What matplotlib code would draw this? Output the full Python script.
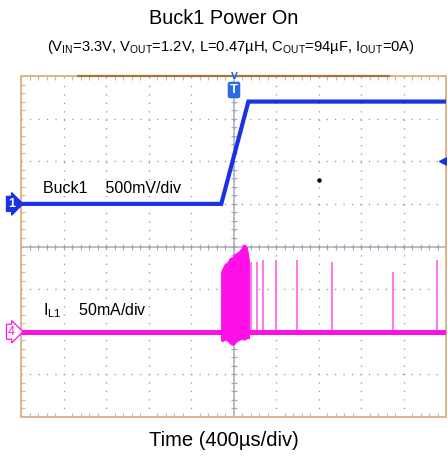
import numpy as np
import matplotlib
matplotlib.use("Agg")
import matplotlib.pyplot as plt
from matplotlib.transforms import blended_transform_factory

plt.rcParams['font.family'] = ['Liberation Sans', 'DejaVu Sans']
plt.rcParams['mathtext.fontset'] = 'custom'
plt.rcParams['mathtext.rm'] = 'Liberation Sans'

# ---- scope settings ----
time_per_div_us = 400          # horizontal scale
ch1_v_per_div = 0.5            # Buck1 output, V/div
ch1_ground_div = 5             # ch1 ground marker, divisions from bottom
ch4_ma_per_div = 50            # inductor current, mA/div
ch4_ground_div = 2             # ch4 ground marker, divisions from bottom
trigger_level_v = 0.5

# ---- Buck1 output voltage (V) ----
vout_t_us = [-2000, -115, 140, 2000]
vout_v = [0.0, 0.0, 1.2, 1.2]

# ---- inductor current burst during soft start (mA envelope) ----
burst_t_us = [-122, -110, -85, -60, -38, -15, 9, 30, 56, 80, 94, 115, 131, 150]
burst_top_ma = [70, 74, 80, 82, 87, 88, 92, 93, 96, 100, 103, 102, 99, 84]
burst_bot_ma = [-10, -12, -10, -11, -14, -16, -15, -12, -10, -9, -10, -9, -8, -8]

# ---- isolated current pulses after the ramp (mA) ----
pulse_t_us = [169, 225, 282, 404, 601, 930, 1502, 1915]
pulse_ma = [82, 82, 84, 84, 84, 82, 70, 84]

# ---- idle inductor current (mA) ----
il_t_us = [-2000, 2000]
il_ma = [0.0, 0.0]

BLUE = '#1a32e6'
PINK = '#ff10e6'
PINK_LIGHT = '#ff6cf0'
BORDER = '#dcb48c'
BORDER_DARK = '#a8743c'
CENTER = '#a4acbc'
GRIDC = '#9a9a9a'

W, H = 448, 458
fig = plt.figure(figsize=(W / 100, H / 100), dpi=100)
fig.patch.set_facecolor('white')

L, R, T, B = 21, 446, 76, 417
ax = fig.add_axes([L / W, 1 - B / H, (R - L) / W, (B - T) / H])
ndiv_x, ndiv_y = 10, 8
ax.set_xlim(-ndiv_x / 2 * time_per_div_us, ndiv_x / 2 * time_per_div_us)
ax.set_ylim(-ch1_ground_div * ch1_v_per_div, (ndiv_y - ch1_ground_div) * ch1_v_per_div)

# grid
ax.set_xticks(np.arange(-2000, 2001, time_per_div_us))
ax.set_yticks(np.arange(-2.5, 1.51, ch1_v_per_div))
ax.set_xticks(np.arange(-2000, 2001, time_per_div_us / 5), minor=True)
ax.set_yticks(np.arange(-2.5, 1.51, ch1_v_per_div / 5), minor=True)
ax.grid(True, which='major', color=GRIDC, linestyle=(0, (0.9, 5.2)), linewidth=1.0)
ax.tick_params(which='both', direction='in', top=True, right=True,
               labelbottom=False, labelleft=False, color=BORDER)
ax.tick_params(which='major', length=0)
ax.tick_params(which='minor', length=3, width=0.8)
for s in ax.spines.values():
    s.set_color(BORDER)
    s.set_linewidth(1.4)

# centre crosshair with fine ticks
xc = 0.0
yc = -ch1_ground_div * ch1_v_per_div + ndiv_y / 2 * ch1_v_per_div
ax.axvline(xc, color=CENTER, lw=1.1, zorder=1)
ax.axhline(yc, color=CENTER, lw=1.1, zorder=1)
ax.plot(np.arange(-2000, 2001, time_per_div_us / 5), np.full(51, yc), ls='none',
        marker='|', ms=4, mew=0.8, color=CENTER, zorder=1)
ax.plot(np.full(41, xc), np.arange(-2.5, 1.51, ch1_v_per_div / 5), ls='none',
        marker='_', ms=4, mew=0.8, color=CENTER, zorder=1)

# memory bar along the top edge
ax.plot([-1464, 1464], [1.5, 1.5], color=BORDER_DARK, lw=1.6, clip_on=False, zorder=5)

# channel 4: inductor current on its own scale
ax2 = ax.twinx()
ax2.set_ylim(-ch4_ground_div * ch4_ma_per_div, (ndiv_y - ch4_ground_div) * ch4_ma_per_div)
ax2.set_yticks([])
for s in ax2.spines.values():
    s.set_visible(False)
ax2.vlines(pulse_t_us, 0, pulse_ma, color=PINK_LIGHT, lw=1.3, zorder=3)
ax2.fill_between(burst_t_us, burst_bot_ma, burst_top_ma, color=PINK, lw=0, zorder=3)
ax2.plot(il_t_us, il_ma, color=PINK, lw=3.6, solid_capstyle='butt', zorder=3)

# channel 1: output voltage
ax3 = ax.twinx()
ax3.set_ylim(ax.get_ylim())
ax3.set_yticks([])
for s in ax3.spines.values():
    s.set_visible(False)
ax3.plot(vout_t_us, vout_v, color=BLUE, lw=3.0, solid_joinstyle='miter', zorder=4)
ax3.plot([800], [0.28], 'o', color='black', ms=2.2, zorder=4)
ax3.plot([1968], [trigger_level_v], marker='<', color=BLUE, ms=5.5, zorder=5)

# ground / trigger markers
bt = blended_transform_factory(fig.transFigure, ax3.transData)
fig.text(8 / W, 0.0, '1', transform=bt, color='white', fontsize=9, fontweight='bold',
         ha='left', va='center',
         bbox=dict(boxstyle='rarrow,pad=0.12', fc=BLUE, ec=BLUE))
bt2 = blended_transform_factory(fig.transFigure, ax2.transData)
fig.text(8 / W, 0.0, '4', transform=bt2, color=PINK, fontsize=9,
         ha='left', va='center',
         bbox=dict(boxstyle='rarrow,pad=0.12', fc='white', ec=PINK, lw=0.9))
fig.text(234 / W, 1 - 90 / H, 'T', color='white', fontsize=9.5, fontweight='bold',
         ha='center', va='center',
         bbox=dict(boxstyle='round,pad=0.12', fc='#2a6ae8', ec='#2a6ae8'))
fig.text(234 / W, 1 - 76 / H, 'v', color='#2a6ae8', fontsize=9, fontweight='bold',
         ha='center', va='center')

# channel captions
fig.text(43 / W, 1 - 188 / H, 'Buck1    500mV/div', fontsize=11.5, ha='left', va='center')
fig.text(43 / W, 1 - 311 / H, r'$\mathregular{I_{L1}}$    50mA/div', fontsize=11.5,
         ha='left', va='center')

# titles
fig.text(0.5, 1 - 19 / H, 'Buck1 Power On', fontsize=14.3, ha='center', va='center')
fig.text(231 / W, 1 - 47 / H,
         r'($\mathregular{V_{IN}}$=3.3V, $\mathregular{V_{OUT}}$=1.2V, L=0.47µH, '
         r'$\mathregular{C_{OUT}}$=94µF, $\mathregular{I_{OUT}}$=0A)',
         fontsize=10.6, ha='center', va='center')
fig.text(0.5, 1 - 441 / H, 'Time (400µs/div)', fontsize=14.5, ha='center', va='center')

fig.savefig('out.png', dpi=100, facecolor='white')
